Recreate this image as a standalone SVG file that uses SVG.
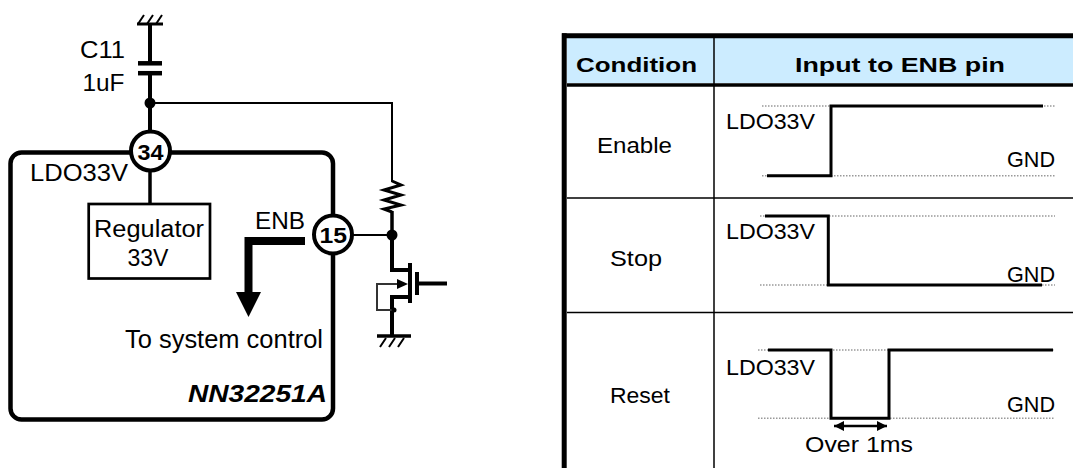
<svg xmlns="http://www.w3.org/2000/svg" width="1073" height="468" viewBox="0 0 1073 468">
<style>
text{font-family:"Liberation Sans",Arial,sans-serif;fill:#000}
.b{font-weight:bold}
.w{fill:none;stroke:#000;stroke-linecap:butt}
.thin{stroke-width:2}
.thk{stroke-width:4}
.wave{fill:none;stroke:#000;stroke-width:3}
.dot{fill:none;stroke:#999;stroke-width:1.5;stroke-dasharray:1.5 1.5}
.tl{stroke:#000;stroke-width:1.5}
.t{font-size:21.5px}
</style>
<defs>
<marker id="ah" viewBox="0 0 10 10" refX="10" refY="5" markerWidth="11" markerHeight="10" markerUnits="userSpaceOnUse" orient="auto-start-reverse"><path d="M0,0L10,5L0,10z" fill="#000"/></marker>
</defs>
<rect width="1073" height="468" fill="#fff"/>

<g id="connectors">
<line class="w" x1="137" y1="24" x2="163" y2="24" stroke-width="3"/>
<path class="w" d="M138,24L144,15M147,24L153,15M156,24L162,15" stroke-width="2"/>
<line class="w thk" x1="150" y1="24" x2="150" y2="63"/>
<line class="w thk" x1="150" y1="73" x2="150" y2="132"/>
<line class="w thin" x1="150" y1="103" x2="392" y2="103"/>
<line class="w thin" x1="392" y1="102" x2="392" y2="182"/>
<circle cx="150" cy="103" r="5.5"/>
<line class="w" x1="150" y1="170" x2="150" y2="204" stroke-width="3.5"/>
<polyline class="w" stroke-width="3" stroke-linejoin="miter" points="392,181 401,185 384,190 401,195 384,200 401,205 384,209 392,212"/>
<line class="w" x1="392" y1="211" x2="392" y2="235" stroke-width="3.5"/>
<line class="w thin" x1="352" y1="235" x2="392" y2="235"/>
<circle cx="392" cy="235" r="5.5"/>
<polyline class="w thk" points="392,235 392,270 410,270"/>
<line class="w thk" x1="410" y1="263" x2="410" y2="303"/>
<line class="w thk" x1="417" y1="272" x2="417" y2="295"/>
<line class="w thk" x1="417" y1="283.5" x2="447" y2="283.5"/>
<polyline class="w thk" points="410,297 392,297 392,336"/>
<polyline fill="none" stroke="#333" stroke-width="2" points="398,284 377,284 377,310 392,310"/>
<path d="M397,279L408,284L397,289z" fill="#000"/>
<circle cx="394" cy="310" r="2.5"/>
<line class="w" x1="377" y1="336" x2="411" y2="336" stroke-width="3.5"/>
<path class="w" d="M380,347L386,338M389,347L395,338M398,347L404,338" stroke-width="2"/>
<polyline fill="none" stroke="#000" stroke-width="8" stroke-linejoin="miter" points="305,241 248.5,241 248.5,293"/>
<path d="M236,292L261,292L248.5,317z" fill="#000"/>
</g>

<g id="cap-c11">
<line class="w" x1="138" y1="63.3" x2="162" y2="63.3" stroke-width="4.5"/>
<line class="w" x1="138" y1="73.2" x2="162" y2="73.2" stroke-width="4.5"/>
<text x="80" y="58.3" font-size="24" textLength="45" lengthAdjust="spacingAndGlyphs">C11</text>
<text x="82.5" y="90.5" font-size="24" textLength="42" lengthAdjust="spacingAndGlyphs">1uF</text>
</g>

<g id="ic">
<rect x="10.5" y="152.5" width="322.5" height="267" rx="11" fill="none" stroke="#000" stroke-width="4.5"/>
<text x="30" y="180.5" font-size="24" textLength="98" lengthAdjust="spacingAndGlyphs">LDO33V</text>
<text class="b" x="188" y="402" font-size="24" font-style="italic" textLength="139" lengthAdjust="spacingAndGlyphs">NN32251A</text>
<text x="125" y="348.3" font-size="25" textLength="198" lengthAdjust="spacingAndGlyphs">To system control</text>
<text x="255" y="229.3" font-size="23.5" textLength="50" lengthAdjust="spacingAndGlyphs">ENB</text>
</g>

<g id="pin34">
<circle cx="150.5" cy="151" r="19.5" fill="#fff" stroke="#000" stroke-width="4"/>
<text class="b" x="137.5" y="159.5" font-size="22" textLength="26" lengthAdjust="spacingAndGlyphs">34</text>
</g>

<g id="pin15">
<circle cx="333" cy="234.5" r="19" fill="#fff" stroke="#000" stroke-width="4"/>
<text class="b" x="319.5" y="243" font-size="22.5" textLength="27.5" lengthAdjust="spacingAndGlyphs">15</text>
</g>

<g id="regulator">
<rect x="88.7" y="204" width="121.3" height="74.5" fill="#fff" stroke="#000" stroke-width="2.7"/>
<text x="94" y="237" font-size="23.5" textLength="110" lengthAdjust="spacingAndGlyphs">Regulator</text>
<text x="127.5" y="265.5" font-size="23.5" textLength="41" lengthAdjust="spacingAndGlyphs">33V</text>
</g>

<g id="table">
<rect x="567" y="38" width="506" height="45" fill="#CCECFF"/>
<line class="tl" x1="714" y1="38" x2="714" y2="468"/>
<line stroke="#000" stroke-width="3.5" x1="567" y1="85" x2="1073" y2="85"/>
<line class="tl" x1="567" y1="198" x2="1073" y2="198"/>
<line class="tl" x1="567" y1="312.5" x2="1073" y2="312.5"/>
<line stroke="#000" stroke-width="5" x1="562" y1="35.8" x2="1073" y2="35.8"/>
<line stroke="#000" stroke-width="5" x1="564.2" y1="33.3" x2="564.2" y2="468"/>
<text class="b" x="576" y="71.5" font-size="21" textLength="121" lengthAdjust="spacingAndGlyphs">Condition</text>
<text class="b" x="795" y="71.5" font-size="21" textLength="210" lengthAdjust="spacingAndGlyphs">Input to ENB pin</text>
</g>

<g id="row-enable">
<text class="t" x="597" y="152.5" textLength="75" lengthAdjust="spacingAndGlyphs">Enable</text>
<line class="dot" x1="762" y1="106" x2="1056" y2="106"/>
<line class="dot" x1="762" y1="175.7" x2="1055" y2="175.7"/>
<polyline class="wave" points="767,175.7 831,175.7 831,106 1043,106"/>
<text class="t" x="726" y="129" textLength="89" lengthAdjust="spacingAndGlyphs">LDO33V</text>
<text class="t" x="1007" y="166.7" textLength="48" lengthAdjust="spacingAndGlyphs">GND</text>
</g>

<g id="row-stop">
<text class="t" x="610" y="266" textLength="52" lengthAdjust="spacingAndGlyphs">Stop</text>
<line class="dot" x1="760" y1="216" x2="1055" y2="216"/>
<line class="dot" x1="760" y1="285" x2="1055" y2="285"/>
<polyline class="wave" points="765,216 828.3,216 828.3,285 1042,285"/>
<text class="t" x="726" y="239" textLength="89" lengthAdjust="spacingAndGlyphs">LDO33V</text>
<text class="t" x="1007" y="281.5" textLength="48" lengthAdjust="spacingAndGlyphs">GND</text>
</g>

<g id="row-reset">
<text class="t" x="610" y="403" textLength="60" lengthAdjust="spacingAndGlyphs">Reset</text>
<line class="dot" x1="758" y1="350" x2="1055" y2="350"/>
<line class="dot" x1="758" y1="418.3" x2="1055" y2="418.3"/>
<polyline class="wave" points="768,350 831,350 831,418.3 889,418.3 889,350 1053,350"/>
<line stroke="#000" stroke-width="2.5" x1="834" y1="426" x2="887" y2="426" marker-start="url(#ah)" marker-end="url(#ah)"/>
<text class="t" x="726" y="375" textLength="89" lengthAdjust="spacingAndGlyphs">LDO33V</text>
<text class="t" x="1007" y="411.7" textLength="48" lengthAdjust="spacingAndGlyphs">GND</text>
<text x="805" y="451.7" font-size="22.5" textLength="108" lengthAdjust="spacingAndGlyphs">Over 1ms</text>
</g>
</svg>
